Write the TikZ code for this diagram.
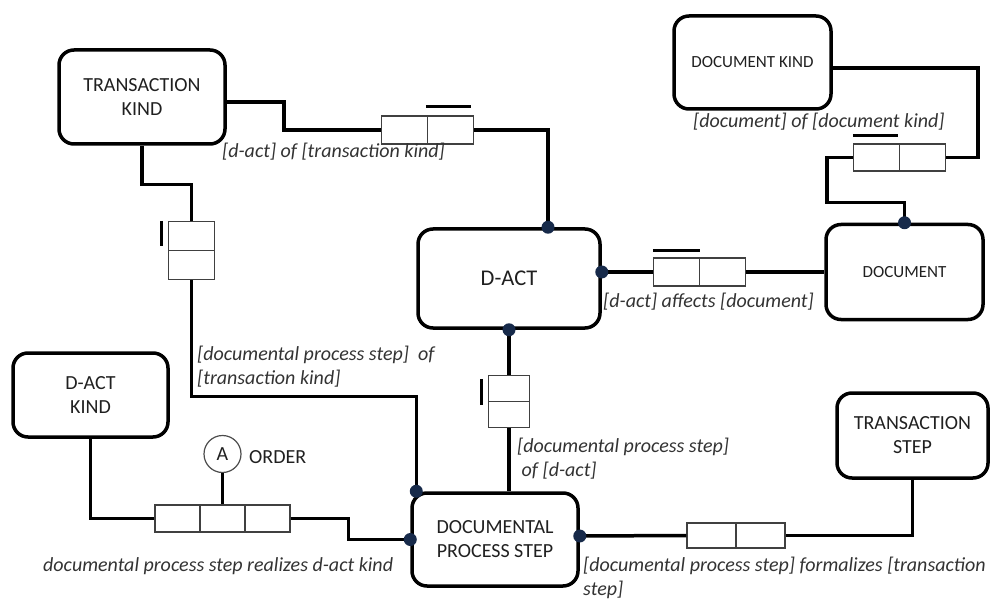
\documentclass[tikz,border=0pt]{standalone}
\usepackage{fontspec}
\setmainfont{Carlito}
\definecolor{boxtext}{HTML}{202020}
\definecolor{reltext}{HTML}{333333}
\definecolor{jointblue}{HTML}{172A4A}

\begin{document}
\begin{tikzpicture}[x=1pt,y=-1pt,
  concept/.style={rectangle,rounded corners=15pt,draw=black,line width=3.5pt,
    align=center,text=boxtext,font=\fontsize{20}{24}\selectfont},
  smalltext/.style={font=\fontsize{17}{20}\selectfont},
  cell/.style={rectangle,draw=black!75,line width=1.2pt,fill=white,
    minimum width=46pt,minimum height=28pt,inner sep=0pt},
  link/.style={line width=3.5pt},
  uniq/.style={line width=3pt},
  fact/.style={inner sep=0pt,align=left,text=reltext,
    font=\fontsize{20}{24}\selectfont\itshape}]
\useasboundingbox (0,0) rectangle (992,601);

\node at (142,  97) (tk)   [concept,minimum width=166pt,minimum height=94pt] {TRANSACTION\\KIND};
\node at (509, 278.5) (dact) [concept,minimum width=182pt,minimum height=99pt,
  font=\fontsize{22.5}{27}\selectfont] {D-ACT};
\node at (904.5, 272) (doc)  [concept,smalltext,minimum width=157pt,minimum height=95pt] {DOCUMENT};
\node at (752.5, 62.5) (dkind) [concept,smalltext,minimum width=157pt,minimum height=93pt] {DOCUMENT KIND};
\node at (90.5, 395) (dak)  [concept,minimum width=155pt,minimum height=84pt] {D-ACT\\KIND};
\node at (495, 539.5) (dps) [concept,minimum width=166pt,minimum height=93pt] {DOCUMENTAL\\PROCESS STEP};
\node at (912.5, 435.5) (ts) [concept,minimum width=151pt,minimum height=85pt] {TRANSACTION\\STEP};

\coordinate (dtop)   at ([xshift=39pt]dact.north);
\coordinate (deast)  at ([yshift=6.5pt]dact.east);
\coordinate (dsouth) at (dact.south);
\coordinate (dnorth) at (doc.north);
\coordinate (dnw)    at ([xshift=6pt]dps.north west);
\coordinate (dwest)  at (dps.west);
\coordinate (dpse)   at ([yshift=3.5pt]dps.east);

\node at (404.5, 130) (r1a) [cell] {};
\node at (450.5, 130) (r1b) [cell] {};
\node at (191.5, 236) (r2a) [cell,minimum height=29pt] {};
\node at (191.5, 265) (r2b) [cell,minimum height=29pt] {};
\node at (676.5, 272) (r3a) [cell] {};
\node at (722.5, 272) (r3b) [cell] {};
\node at (876.5, 157.5) (r4a) [cell,minimum height=27pt] {};
\node at (922.5, 157.5) (r4b) [cell,minimum height=27pt] {};
\node at (509, 388.5) (r5a) [cell,minimum width=41pt,minimum height=26pt] {};
\node at (509, 414.5) (r5b) [cell,minimum width=41pt,minimum height=26pt] {};
\node at (177.5, 518.5) (r6a) [cell,minimum width=45pt,minimum height=27pt] {};
\node at (222.5, 518.5) (r6b) [cell,minimum width=45pt,minimum height=27pt] {};
\node at (267.5, 518.5) (r6c) [cell,minimum width=45pt,minimum height=27pt] {};
\node at (711.5, 535.5) (r7a) [cell,minimum width=49pt,minimum height=25pt] {};
\node at (760.5, 535.5) (r7b) [cell,minimum width=49pt,minimum height=25pt] {};

\node at (222.5, 454) (ordA) [circle,draw=black!70,line width=1.2pt,minimum size=37pt,
  inner sep=0pt,text=boxtext,font=\fontsize{20}{24}\selectfont] {A};
\node at (249, 457) (ordlbl) [anchor=west,inner sep=0pt,text=boxtext,
  font=\fontsize{20}{24}\selectfont] {ORDER};

\draw [link] ([yshift=-5pt]tk.east) -- ++(57,0) |- (r1a.west);
\draw [link] (r1b.east) -| (dtop);
\draw [link] (tk.south) -- ++(0,39) -| (r2a.north);
\draw [link] (r2b.south) -- ++(0,116.5) -| (dnw);
\draw [link] (deast) -- (r3a.west);
\draw [link] (r3b.east) -- (doc.west);
\draw [link] ([yshift=-5.5pt]dkind.east) -- ++(145,0) |- (r4b.east);
\draw [link] (r4a.west) -- ++(-26,0) -- ++(0,45) -| (dnorth);
\draw [link] (dsouth) -- (r5a.north);
\draw [link] (r5b.south) -- (r5b.south |- dps.north);
\draw [link] (dak.south) |- (r6a.west);
\draw [link] (r6c.east) -- ++(58,0) |- (dwest);
\draw [uniq] (ordA.south) -- (r6b.north);
\draw [link] (dpse) -- (r7a.west);
\draw [link] (r7b.east) -| (ts.south);

\draw [uniq] ([xshift=-1pt,yshift=9pt]r1b.north west) -- ([xshift=-3pt,yshift=9pt]r1b.north east);
\draw [uniq] ([xshift=-6pt]r2a.north west) -- ++(0,25);
\draw [uniq] ([yshift=7pt]r3a.north west) -- ([yshift=7pt]r3a.north east);
\draw [uniq] ([yshift=8pt]r4a.north west) -- ([xshift=-2pt,yshift=8pt]r4a.north east);
\draw [uniq] ([xshift=-6pt,yshift=-4pt]r5a.north west) -- ++(0,26);

\foreach \p in {dtop,deast,dsouth,dnorth,dnw,dwest,dpse}
  \fill [jointblue] (\p) circle (6.5pt);

\node at (222, 152) (lbltk) [fact,anchor=west] {[d-act] of [transaction kind]};
\node at (197, 367) (lblstep) [fact,anchor=west] {[documental process step]\ \ of\\{}[transaction kind]};
\node at (693, 122) (lbldoc) [fact,anchor=west] {[document] of [document kind]};
\node at (603, 302) (lblaff) [fact,anchor=west] {[d-act] affects [document]};
\node at (517, 458.5) (lbldact) [fact,anchor=west] {[documental process step]\\{}\ of [d-act]};
\node at (43, 566) (lblreal) [fact,anchor=west] {documental process step realizes d-act kind};
\node at (583, 578) (lblform) [fact,anchor=west] {[documental process step] formalizes [transaction\\{}step]};
\end{tikzpicture}
\end{document}
